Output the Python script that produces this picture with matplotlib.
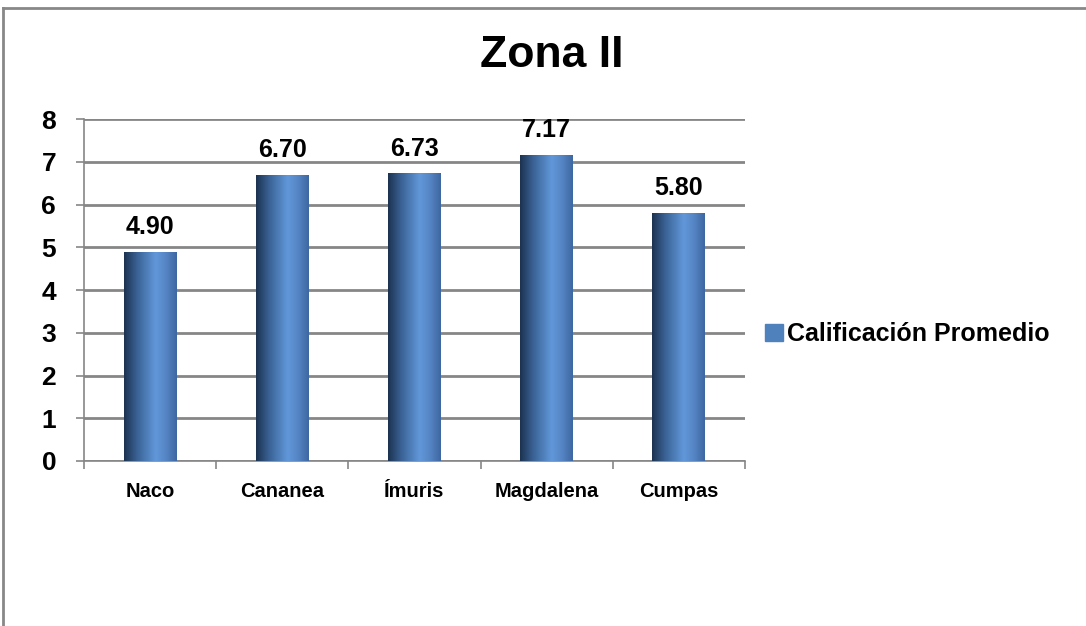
import numpy as np
import matplotlib.pyplot as plt
from matplotlib.colors import LinearSegmentedColormap
from matplotlib.patches import Rectangle
from matplotlib.lines import Line2D

plt.rcParams['font.family'] = ['Liberation Sans', 'DejaVu Sans']
plt.rcParams['font.weight'] = 'bold'

municipios = ['Naco', 'Cananea', 'Ímuris', 'Magdalena', 'Cumpas']
calificacion = [4.90, 6.70, 6.73, 7.17, 5.80]
serie = 'Calificación Promedio'
titulo = 'Zona II'

# cylinder-like shading across each bar
cyl = LinearSegmentedColormap.from_list('cyl', [
    (0.0, '#1c3350'), (0.25, '#3a6295'), (0.6, '#6198da'),
    (0.8, '#5584c4'), (1.0, '#3d67a0')])
grad = np.linspace(0, 1, 256).reshape(1, -1)

fig = plt.figure(figsize=(10.86, 6.26), dpi=100)
ax = fig.add_axes([0.0773, 0.2636, 0.6087, 0.546])

x = np.arange(len(municipios))
bw = 0.4
bars = ax.bar(x, calificacion, width=bw, color='#4f81bd', zorder=2)
for b in bars:
    bx, by = b.get_x(), b.get_y()
    bwid, bh = b.get_width(), b.get_height()
    im = ax.imshow(grad, cmap=cyl, aspect='auto', zorder=3,
                   extent=[bx, bx + bwid, by, by + bh])
    im.set_clip_path(b)
    ax.text(bx + bwid / 2, bh + 0.3, f'{bh:.2f}', ha='center', va='bottom',
            fontsize=18, fontweight='bold', zorder=4)

ax.set_xlim(-0.5, len(municipios) - 0.5)
ax.set_ylim(0, 8)
ax.set_yticks(range(0, 9))
ax.set_xticks(x)
ax.set_xticklabels(municipios, fontsize=14.5, fontweight='bold')
ax.set_xticks(np.arange(-0.5, len(municipios)), minor=True)
ax.tick_params(axis='x', which='major', length=0, pad=15)
ax.tick_params(axis='x', which='minor', length=6, width=1.2, color='#868686')
ax.tick_params(axis='y', length=6, width=1.2, color='#868686', labelsize=19,
               pad=14)
for lab in ax.get_yticklabels():
    lab.set_fontweight('bold')

ax.grid(axis='y', color='#868686', linewidth=2, zorder=0)
ax.set_axisbelow(True)
for s in ['top', 'right']:
    ax.spines[s].set_visible(False)
for s in ['left', 'bottom']:
    ax.spines[s].set_color('#868686')
    ax.spines[s].set_linewidth(1.2)

fig.text(0.508, 0.912, titulo, ha='center', va='center', fontsize=32,
         fontweight='bold')

handle = Rectangle((0, 0), 1, 1, color='#4f81bd')
fig.legend([handle], [serie], loc='center left', bbox_to_anchor=(0.684, 0.466),
           frameon=False, prop={'size': 18, 'weight': 'bold'},
           handlelength=0.7, handleheight=0.7, handletextpad=0.15)

# outer chart border (cut off on the right and bottom)
fig.add_artist(Line2D([0.0028, 0.0028], [0.0, 0.988], color='#888888',
                      linewidth=2, transform=fig.transFigure))
fig.add_artist(Line2D([0.0028, 1.0], [0.988, 0.988], color='#888888',
                      linewidth=2, transform=fig.transFigure))

fig.savefig('out.png', dpi=100)
